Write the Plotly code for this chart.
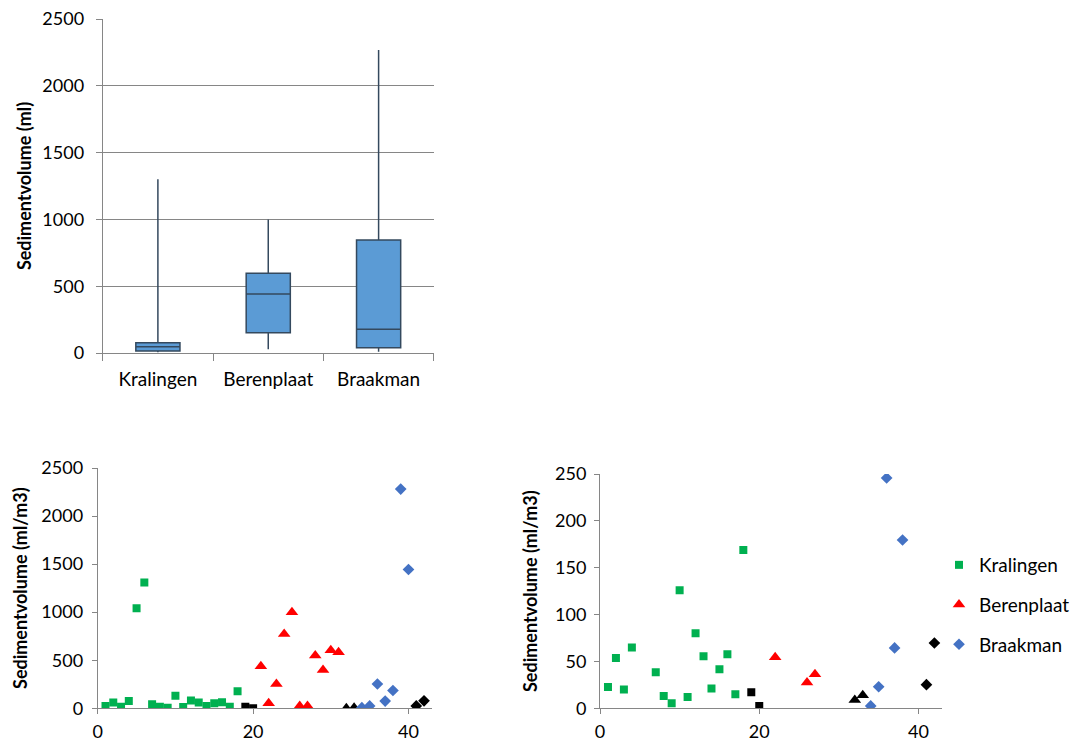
import plotly.graph_objects as go

# ---------------- data ----------------
box_categories = ["Kralingen", "Berenplaat", "Braakman"]
box_q1 = [15, 152, 40]
box_median = [47, 441, 177]
box_q3 = [77, 596, 846]
box_min = [5, 28, 10]
box_max = [1300, 1000, 2268]

# left scatter (ml) per sample number
kral_x = [1, 2, 3, 4, 5, 6, 7, 8, 9, 10, 11, 12, 13, 14, 15, 16, 17, 18]
kral_y = [25, 60, 17, 75, 1040, 1308, 43, 17, 6, 131, 14, 81, 60, 25, 53, 64, 17, 178]
kral_blk_x = [19, 20]
kral_blk_y = [17, 0]

beren_x = [21, 22, 23, 24, 25, 26, 27, 28, 29, 30, 31]
beren_y = [438, 53, 252, 773, 998, 25, 25, 549, 399, 605, 584]
beren_blk_x = [32, 33]
beren_blk_y = [0, 6]

braak_x = [34, 35, 36, 37, 38, 39, 40]
braak_y = [6, 25, 253, 75, 185, 2281, 1444]
braak_blk_x = [41, 42]
braak_blk_y = [25, 78]

# right scatter (ml/m3)
kral2_x = [1, 2, 3, 4, 7, 8, 9, 10, 11, 12, 13, 14, 15, 16, 17, 18]
kral2_y = [22.7, 53.7, 20, 65, 38.4, 13, 5.3, 126, 12, 80, 55.5, 21, 41.6, 57.6, 15, 169]
kral2_blk_x = [19, 20]
kral2_blk_y = [17, 2.5]

beren2_x = [22, 26, 27]
beren2_y = [54.4, 27.4, 36.3]
beren2_blk_x = [32, 33]
beren2_blk_y = [8.9, 13.9]

braak2_x = [34, 35, 36, 37, 38]
braak2_y = [2.5, 23, 245.8, 64.4, 179.6]
braak2_blk_x = [41, 42]
braak2_blk_y = [25.2, 69.7]

FONT = "Lato"
GREEN = "#00B050"
RED = "#FF0000"
BLUE = "#4472C4"
AXIS = "#868686"

fig = go.Figure()

fig.add_trace(go.Box(
    x=box_categories, q1=box_q1, median=box_median, q3=box_q3,
    lowerfence=box_min, upperfence=box_max,
    fillcolor="#5B9BD5", line=dict(color="#34495E", width=1.5),
    whiskerwidth=0, width=0.4, showlegend=False,
    xaxis="x", yaxis="y", boxpoints=False,
))

def sc(x, y, sym, color, size, name, ax, show):
    fig.add_trace(go.Scatter(
        x=x, y=y, mode="markers", name=name,
        marker=dict(symbol=sym, color=color, size=size, line=dict(width=0)),
        xaxis="x" + ax, yaxis="y" + ax, showlegend=show,
        legendgroup=name if show else None,
    ))

SQ, TR, DI = 8, 11, 9
sc(kral_x, kral_y, "square", GREEN, SQ, "Kralingen", "2", False)
sc(kral_blk_x, kral_blk_y, "square", "black", SQ, "k1", "2", False)
sc(beren_x, beren_y, "triangle-up", RED, TR, "Berenplaat", "2", False)
sc(beren_blk_x, beren_blk_y, "triangle-up", "black", TR, "k2", "2", False)
sc(braak_x, braak_y, "diamond", BLUE, DI, "Braakman", "2", False)
sc(braak_blk_x, braak_blk_y, "diamond", "black", DI, "k3", "2", False)

sc(kral2_x, kral2_y, "square", GREEN, SQ, "Kralingen", "3", True)
sc(kral2_blk_x, kral2_blk_y, "square", "black", SQ, "k4", "3", False)
sc(beren2_x, beren2_y, "triangle-up", RED, TR, "Berenplaat", "3", True)
sc(beren2_blk_x, beren2_blk_y, "triangle-up", "black", TR, "k5", "3", False)
sc(braak2_x, braak2_y, "diamond", BLUE, DI, "Braakman", "3", True)
sc(braak2_blk_x, braak2_blk_y, "diamond", "black", DI, "k6", "3", False)

W, H = 1075, 743
tickfont = dict(family=FONT, size=18, color="black")
catfont = dict(family=FONT, size=19, color="black")
titlefont = dict(family=FONT, size=18, color="black", weight="bold")

common = dict(automargin=False, showline=True, linecolor=AXIS, tickcolor=AXIS,
              ticks="outside", zeroline=False)

fig.update_layout(
    width=W, height=H,
    margin=dict(l=0, r=0, t=0, b=0),
    paper_bgcolor="white", plot_bgcolor="white",
    font=dict(family=FONT, size=18, color="black"),
    xaxis=dict(domain=[103 / W, 435 / W], anchor="y", type="category",
               tickson="boundaries", ticklen=7, showgrid=False, tickfont=catfont,
               range=[-0.5, 2.5], ticklabelstandoff=9, **common),
    yaxis=dict(domain=[1 - 353 / H, 1 - 19 / H], anchor="x", range=[0, 2500],
               dtick=500, showgrid=True, gridcolor=AXIS, ticklen=6, tickfont=tickfont,
               ticklabelstandoff=8,
               title=dict(text="Sedimentvolume (ml)", font=titlefont, standoff=6),
               **common),
    xaxis2=dict(domain=[98 / W, 433 / W], anchor="y2", range=[0, 43], dtick=20,
                ticklen=5, showgrid=False, tickfont=tickfont, ticklabelstandoff=2,
                **common),
    yaxis2=dict(domain=[1 - 708.3 / H, 1 - 468 / H], anchor="x2", range=[0, 2500],
                dtick=500, ticklen=5, showgrid=False, tickfont=tickfont,
                ticklabelstandoff=5,
                title=dict(text="Sedimentvolume (ml/m3)", font=titlefont, standoff=9),
                **common),
    xaxis3=dict(domain=[601.7 / W, 945 / W], anchor="y3", range=[0, 43], dtick=20,
                ticklen=5, showgrid=False, tickfont=tickfont, ticklabelstandoff=2,
                **common),
    yaxis3=dict(domain=[1 - 708.3 / H, 1 - 474 / H], anchor="x3", range=[0, 250],
                dtick=50, ticklen=5, showgrid=False, tickfont=tickfont,
                ticklabelstandoff=4,
                title=dict(text="Sedimentvolume (ml/m3)", font=titlefont, standoff=12),
                **common),
    legend=dict(x=942 / W, y=1 - 546 / H, xanchor="left", yanchor="top",
                font=dict(family=FONT, size=19, color="black"),
                tracegroupgap=12, itemsizing="trace", bgcolor="rgba(0,0,0,0)"),
)

fig.write_html("out.html")
